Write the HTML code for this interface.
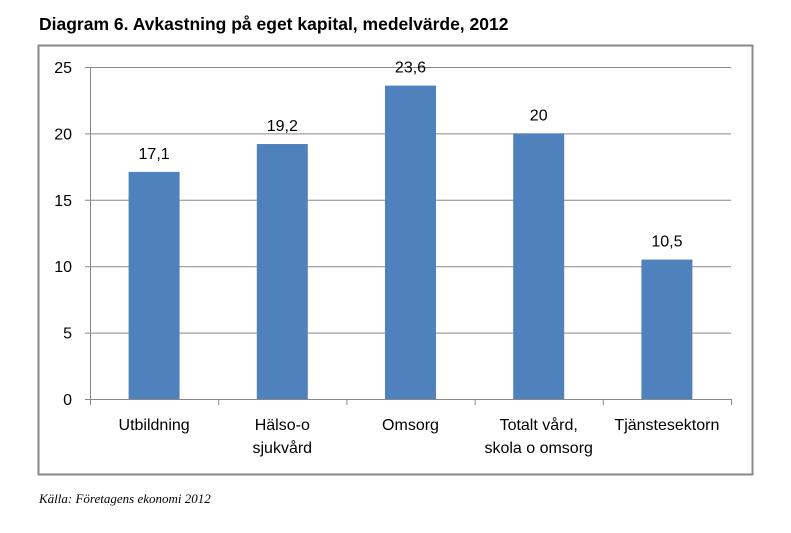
<!DOCTYPE html>
<html><head><meta charset="utf-8"><style>
body{margin:0;background:#fff;width:791px;height:528px;overflow:hidden;font-family:"Liberation Sans",sans-serif}
</style></head><body>
<svg width="791" height="528">
<text x="39" y="30" font-family="Liberation Sans" font-weight="bold" font-size="17.5" fill="#000">Diagram 6.  Avkastning på eget kapital, medelvärde, 2012</text>
<rect x="38.5" y="45.5" width="714" height="429" fill="#fff" stroke="#888" stroke-width="2"/>
<g id="grid"></g>
<g id="bars"></g>
<g id="axes"></g>
<text x="39" y="503" font-family="Liberation Serif" font-style="italic" font-size="13">Källa: Företagens ekonomi 2012</text>
</svg>
<script>
const categories=[["Utbildning"],["Hälso-o","sjukvård"],["Omsorg"],["Totalt vård,","skola o omsorg"],["Tjänstesektorn"]];
const values=[17.1,19.2,23.6,20,10.5];
const valueLabels=["17,1","19,2","23,6","20","10,5"];
const yTicks=[0,5,10,15,20,25];
const NS="http://www.w3.org/2000/svg";
const x0=90,x1=731,yB=399,yT=67,yMax=25;
const cw=(x1-x0)/categories.length;
const y=v=>yB-(yB-yT)*v/yMax;
function mk(t,a,p){const e=document.createElementNS(NS,t);for(const k in a)e.setAttribute(k,a[k]);p.appendChild(e);return e;}
const g=document.getElementById('grid'),b=document.getElementById('bars'),ax=document.getElementById('axes');
yTicks.forEach(t=>{
 const l=mk('line',{x1:x0-5,x2:x1,y1:y(t)+.5,y2:y(t)+.5,stroke:'#888','stroke-width':1},g);
 
 
 const tx=mk('text',{x:72,y:y(t)+6,'text-anchor':'end','font-size':16,fill:'#000'},ax);
 tx.textContent=t;
 
 
});
const ya=mk('line',{x1:x0+.5,x2:x0+.5,y1:yT,y2:yB,stroke:'#888'},ax);


for(let i=0;i<=categories.length;i++){
 const t=mk('line',{x1:x0+i*cw+.5,x2:x0+i*cw+.5,y1:yB,y2:yB+6,stroke:'#888'},ax);
 
 
}
values.forEach((v,i)=>{
 const cx=x0+cw*(i+.5),w=51;
 const r=mk('rect',{x:cx-w/2,y:y(v),width:w,height:yB-y(v),fill:'#4f81bd'},b);
 
 
 const lt=mk('text',{x:cx,y:y(v)-13,'text-anchor':'middle','font-size':16},b);
 lt.textContent=valueLabels[i];
 
 
 categories[i].forEach((line,j)=>{
  const ct=mk('text',{x:cx,y:430+j*23,'text-anchor':'middle','font-size':16},ax);
  ct.textContent=line;
  
  
 });
});
</script>
</body></html>
